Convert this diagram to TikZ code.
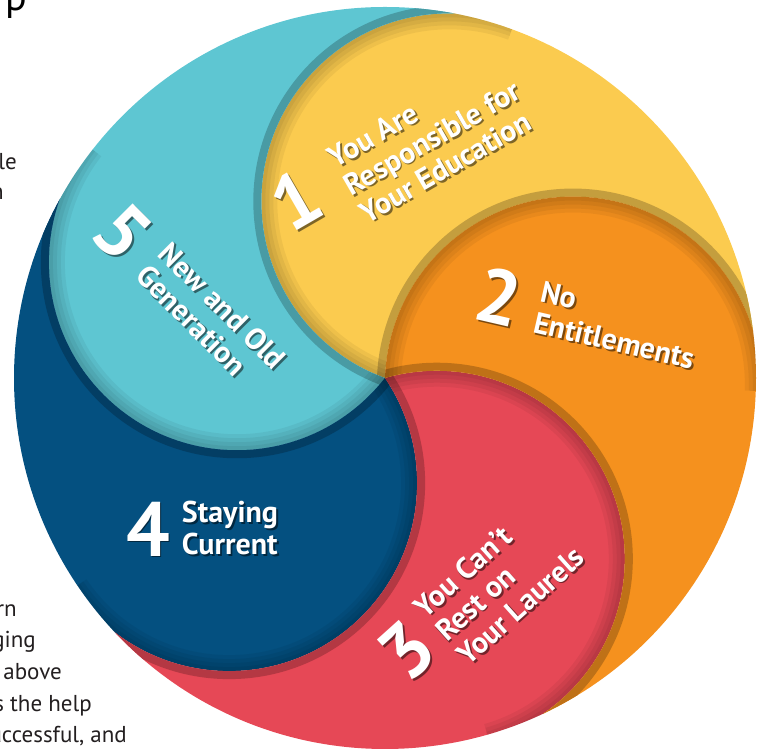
\documentclass[tikz,border=0pt]{standalone}
\usepackage{fontspec}
\setmainfont{PT Sans}
\usetikzlibrary{calc, positioning}

\definecolor{swTeal}{HTML}{5EC6D2}
\definecolor{swYellow}{HTML}{FBCB4F}
\definecolor{swOrange}{HTML}{F5911E}
\definecolor{swRed}{HTML}{E64856}
\definecolor{swBlue}{HTML}{045080}
\definecolor{pagetext}{HTML}{231F20}

\tikzset{
  numlbl/.style={font=\bfseries\fontsize{77}{77}\selectfont, text=white, inner sep=0pt},
  txtlbl/.style={font=\bfseries\fontsize{30}{32}\selectfont, text=white, align=left, inner sep=0pt},
  sidetxt/.style={font=\fontsize{23}{23}\selectfont, text=pagetext, inner sep=0pt, anchor=base east},
  titletxt/.style={font=\fontsize{40}{40}\selectfont, text=black, inner sep=0pt, anchor=base east},
}

% white label with a dark drop shadow
\newcommand{\shadowednode}[5]{%
  \node[#4, text=black, opacity=.5, rotate=#3] (#1s) at ($(#2)+(1.8,-1.8)$) {#5};
  \node[#4, rotate=#3] (#1) at (#2) {#5};}

\begin{document}
\begin{tikzpicture}[x=1pt, y=1pt]
\useasboundingbox (0,0) rectangle (764,749);

% centre of the swirl
\coordinate (c) at (385,371);
\def\R{371}
\def\r{188}

% the five swirl pieces, each one lies under the next one clockwise
% (clockwise frame + counter-clockwise circle = frame with a hole)
\foreach \col/\a in {swYellow/70, swTeal/142, swBlue/214, swRed/286, swOrange/358} {
  \begin{scope}
    \clip (c) circle (\R);
    \clip (0,0) -- (0,749) -- (764,749) -- (764,0) -- cycle ($(c)+(\a-72:\r)$) circle (\r);
    \clip (c) -- ($(c)+(\a-72:\R+5)$) arc (\a-72:\a:\R+5) -- cycle ($(c)+(\a:\r)$) circle (\r);
    \fill[\col] (0,0) rectangle (764,749);
    \draw[\col!78!black, line width=16pt] ($(c)+(\a-72:\r)$) circle (\r);
    % soft inner shadow along the raised edge
    \begin{scope}
      \clip ($(c)+(\a:\r)$) circle (\r);
      \clip (0,0) -- (0,749) -- (764,749) -- (764,0) -- cycle (c) -- ($(c)+(\a-72:\R+5)$) arc (\a-72:\a:\R+5) -- cycle;
      \foreach \w in {32,24,16,8}
        \draw[black, opacity=.05, line width=\w pt] ($(c)+(\a:\r)$) circle (\r);
    \end{scope}
  \end{scope}
}

% labels
\shadowednode{n1}{296,549}{30}{numlbl}{1}
\shadowednode{t1}{432,611}{30}{txtlbl}{You Are\\Responsible for\\Your Education}
\shadowednode{n2}{499,452}{-13}{numlbl}{2}
\shadowednode{t2}{618,424}{-13}{txtlbl}{No\\Entitlements}
\shadowednode{n3}{407,99}{42}{numlbl}{3}
\shadowednode{t3}{499,167}{42}{txtlbl}{You Can’t\\Rest on\\Your Laurels}
\shadowednode{n4}{148,220}{0}{numlbl}{4}
\shadowednode{t4}{230,221}{0}{txtlbl}{Staying\\Current}
\shadowednode{n5}{123,517}{-45}{numlbl}{5}
\shadowednode{t5}{211,432}{-45}{txtlbl}{New and Old\\Generation}

% page text cut off at the left
\node[titletxt] (ttl) at (27,738) {p};
\node[sidetxt] (l1) at (17,579) {le};
\node[sidetxt] (l2) at (4,549) {n};
\node[sidetxt] (l3) at (17,132) {rn};
\node[sidetxt] (l4) at (36,101) {ging};
\node[sidetxt] (l5) at (62,69) {above};
\node[sidetxt] (l6) at (92,37) {s the help};
\node[sidetxt] (l7) at (127,6) {uccessful, and};

\end{tikzpicture}
\end{document}
